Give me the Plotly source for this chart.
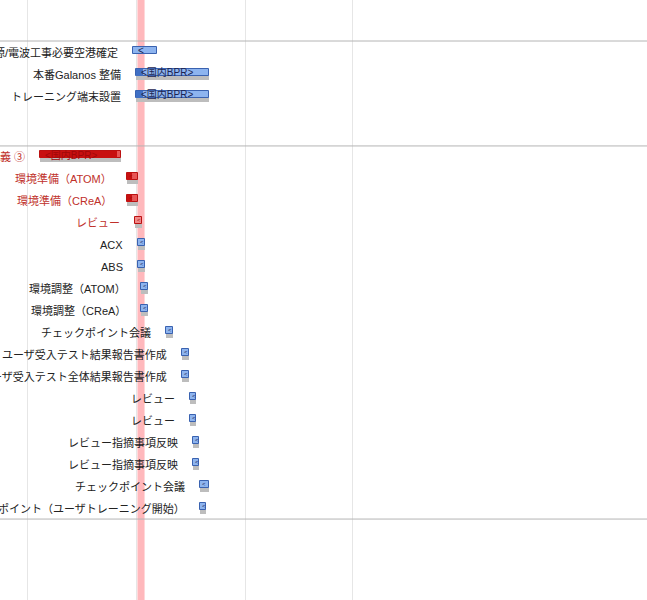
import plotly.graph_objects as go

# ---------------- data ----------------
labels = [
    "電源/電波工事必要空港確定", "本番Galanos 整備", "トレーニング端末設置",
    "要件定義 ③", "環境準備（ATOM）", "環境準備（CReA）", "レビュー",
    "ACX", "ABS", "環境調整（ATOM）", "環境調整（CReA）", "チェックポイント会議",
    "ユーザ受入テスト結果報告書作成", "ユーザ受入テスト全体結果報告書作成",
    "レビュー", "レビュー", "レビュー指摘事項反映", "レビュー指摘事項反映",
    "チェックポイント会議", "チェックポイント（ユーザトレーニング開始）",
]
group = [0, 0, 0] + [1] * 17
row_in_group = [0, 1, 2] + list(range(17))
group_offsets = [0, 4.77, 21.73]

start = [6.87, 7.06, 7.06, 0.84, 6.48, 6.48, 7.00, 7.19, 7.19, 7.39, 7.39, 9.01,
         10.05, 10.05, 10.57, 10.57, 10.76, 10.76, 11.21, 11.21]
end = [8.43, 11.80, 11.80, 6.09, 7.19, 7.19, 7.45, 7.65, 7.65, 7.84, 7.84, 9.46,
       10.50, 10.50, 10.95, 10.95, 11.15, 11.15, 11.80, 11.60]
progress_end = [None, 7.52, 7.52, 5.83, 6.81, 6.81, None] + [None] * 13
kind = ["blue"] * 3 + ["red"] * 4 + ["blue"] * 13
shadow = [False] + [True] * 19
bar_text = ["<", "<国内BPR>", "<国内BPR>", "<国内BPR>"] + ["<"] * 16

today = [7.16, 7.62]
week_lines = [0, 7.07, 14.13, 21.07]

# ---------------- styling ----------------
FONT = "Liberation Sans, Noto Sans CJK JP, sans-serif"
style = {
    "blue": dict(fill="#8db4ef", line="#3a62b0", prog="#3f6fc4", label="#222222", text="#1c2450"),
    "red": dict(fill="#e85555", line="#bb1111", prog="#c81010", label="#c0302a", text="#a00808"),
}
fills = [style[k]["fill"] for k in kind]
fills[6] = "#f08a8a"

yrow = [group_offsets[g] + r for g, r in zip(group, row_in_group)]
BAR_H = 7 / 22
BAR_SHIFT = -2 / 22
SHADOW_SHIFT = 2 / 22

fig = go.Figure()

# shadows
sidx = [i for i in range(len(labels)) if shadow[i]]
fig.add_trace(go.Bar(
    orientation="h",
    y=[yrow[i] + SHADOW_SHIFT for i in sidx],
    base=[start[i] for i in sidx],
    x=[end[i] - start[i] for i in sidx],
    width=BAR_H,
    marker=dict(color="#bdbdbd", line=dict(width=0)),
    hoverinfo="skip",
))

# main bars
fig.add_trace(go.Bar(
    orientation="h",
    y=[v + BAR_SHIFT for v in yrow],
    base=start,
    x=[e - s for s, e in zip(start, end)],
    width=BAR_H,
    marker=dict(color=fills, line=dict(color=[style[k]["line"] for k in kind], width=1)),
    hovertext=labels,
    hoverinfo="text",
))

# progress bars
pidx = [i for i in range(len(labels)) if progress_end[i] is not None]
fig.add_trace(go.Bar(
    orientation="h",
    y=[yrow[i] + BAR_SHIFT for i in pidx],
    base=[start[i] for i in pidx],
    x=[progress_end[i] - start[i] for i in pidx],
    width=BAR_H,
    marker=dict(color=[style[kind[i]]["prog"] for i in pidx], line=dict(width=0)),
    hoverinfo="skip",
))

annotations = []
for i, lab in enumerate(labels):
    annotations.append(dict(
        x=start[i], y=yrow[i], xref="x", yref="y", text=lab, showarrow=False,
        xanchor="right", yanchor="middle", xshift=-13,
        font=dict(family=FONT, size=11, color=style[kind[i]]["label"]),
    ))
    big = (end[i] - start[i]) > 1
    annotations.append(dict(
        x=start[i], y=yrow[i] + BAR_SHIFT, xref="x", yref="y", text=bar_text[i],
        showarrow=False, xanchor="left", yanchor="middle",
        xshift=3 if big else 0, yshift=0 if big else 1,
        font=dict(family=FONT, size=10 if big else 6, color=style[kind[i]]["text"]),
    ))

shapes = [dict(type="rect", xref="x", yref="paper", x0=today[0], x1=today[1], y0=0, y1=1,
               fillcolor="#ffb8bc", line=dict(width=0), layer="below")]
for g in group_offsets:
    shapes.append(dict(type="line", xref="paper", yref="y", x0=0, x1=1, y0=g - 0.5, y1=g - 0.5,
                       line=dict(color="#b4b4b4", width=1)))

day_px = 108 / 7
x0 = -27 / day_px
x1 = x0 + 647 / day_px
y_top = -52 / 22
y_bot = (600 - 52) / 22

fig.update_layout(
    width=647, height=600,
    margin=dict(l=0, r=0, t=0, b=0),
    paper_bgcolor="white", plot_bgcolor="white",
    barmode="overlay", bargap=0,
    showlegend=False,
    font=dict(family=FONT),
    xaxis=dict(range=[x0, x1], showgrid=True, gridcolor="#e6e6e6", gridwidth=1,
               tickmode="array", tickvals=week_lines, showticklabels=False,
               zeroline=False, showline=False, ticks=""),
    yaxis=dict(range=[y_bot, y_top], showgrid=False, showticklabels=False,
               zeroline=False, showline=False, ticks=""),
    annotations=annotations,
    shapes=shapes,
)

fig.write_html("out.html")
